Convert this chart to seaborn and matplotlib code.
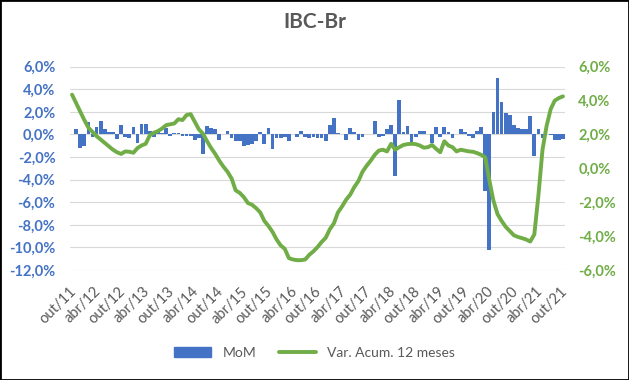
import matplotlib
matplotlib.use("Agg")
import matplotlib.pyplot as plt
import matplotlib.transforms as mtransforms
import seaborn as sns
import pandas as pd
import numpy as np
from matplotlib.patches import Rectangle
from matplotlib.lines import Line2D
from matplotlib.ticker import FuncFormatter

# Monthly variation (MoM, %) from out/11 to out/21
mom = [0.05, 0.5, -1.2, -1.05, 1.1, -0.25, 0.7, 1.2, 0.45, 0.2,
       0.2, -0.4, 0.85, -0.2, -0.3, 0.65, -0.75, 0.9, 0.95, 0.3,
       -0.25, 0.2, 0.1, 0.6, -0.1, 0.15, 0.1, -0.15, -0.15, -0.15,
       -0.5, -0.3, -1.75, 0.75, 0.6, 0.45, -0.5, 0.02, 0.3, -0.35,
       -0.55, -0.6, -1.05, -0.95, -0.85, -0.6, 0.2, -0.8, 0.6, -1.25,
       -0.35, -0.3, -0.2, -0.6, 0.05, -0.2, 0.3, -0.25, -0.3, -0.25,
       -0.35, -0.3, -0.6, 0.85, 1.5, 0.15, 0.02, -0.5, 0.6, 0.25,
       -0.45, -0.2, 0.02, 0.02, 1.15, -0.2, -0.1, 0.45, 0.8, -3.65,
       3.05, 0.25, 0.75, -0.7, -0.2, 0.3, 0.35, 0.02, -0.75, 0.7,
       -0.2, 0.65, 0.2, -0.35, 0.02, 0.45, 0.2, -0.15, -0.35, 0.3,
       0.65, -5.0, -10.2, 2.0, 5.0, 2.85, 1.9, 1.7, 0.85, 0.55,
       0.45, 0.45, 1.65, -1.9, 0.45, -0.35, 0.02, -0.05, -0.45, -0.45,
       -0.4]

# 12-month accumulated variation (%)
acum = [4.35, 3.85, 3.35, 2.85, 2.4, 2.15, 1.9, 1.7, 1.5, 1.3,
        1.1, 0.95, 0.85, 1.0, 0.98, 0.92, 1.2, 1.35, 1.45, 1.95,
        2.1, 2.2, 2.35, 2.55, 2.6, 2.65, 2.9, 2.85, 3.15, 3.2,
        2.75, 2.3, 2.05, 1.6, 1.2, 0.85, 0.45, 0.1, -0.2, -0.6,
        -1.3, -1.45, -1.7, -2.05, -2.15, -2.35, -2.6, -3.1, -3.4, -3.75,
        -4.2, -4.55, -4.75, -5.3, -5.38, -5.42, -5.42, -5.38, -5.1, -4.9,
        -4.65, -4.35, -4.1, -3.6, -3.25, -2.6, -2.25, -1.85, -1.55, -1.1,
        -0.75, -0.2, 0.15, 0.45, 0.8, 1.05, 1.1, 1.0, 1.45, 1.1,
        1.25, 1.38, 1.43, 1.45, 1.43, 1.35, 1.22, 1.25, 1.38, 1.15,
        0.95, 1.6, 1.35, 1.25, 1.0, 1.1, 1.05, 1.0, 0.98, 0.9,
        0.8, 0.65, -0.7, -1.9, -2.7, -3.1, -3.45, -3.7, -3.95, -4.05,
        -4.12, -4.2, -4.32, -3.9, -1.6, 1.1, 2.5, 3.5, 4.0, 4.15,
        4.25]

tick_labels = ["out/11", "abr/12", "out/12", "abr/13", "out/13", "abr/14",
               "out/14", "abr/15", "out/15", "abr/16", "out/16", "abr/17",
               "out/17", "abr/18", "out/18", "abr/19", "out/19", "abr/20",
               "out/20", "abr/21", "out/21"]

BLUE = "#4472C4"
GREEN = "#70AD47"
GREY = "#595959"

sns.set_style("white")
plt.rcParams['font.family'] = ['Lato', 'DejaVu Sans']

df = pd.DataFrame({"m": np.arange(len(mom)), "mom": mom, "acum": acum})

fig = plt.figure(figsize=(6.29, 3.80), dpi=100)
ax = fig.add_axes([70 / 629, 110 / 380, 495 / 629, 203.3 / 380])

sns.barplot(data=df, x="m", y="mom", ax=ax, color=BLUE, saturation=1,
            width=0.92, errorbar=None, linewidth=0)
ax2 = ax.twinx()
sns.lineplot(data=df, x="m", y="acum", ax=ax2, color=GREEN, linewidth=2.8)

ax.set_xlim(-0.5, len(mom) - 0.5)
ax.set_ylim(-12, 6)
ax2.set_ylim(-6, 6)
ax.set_yticks(np.arange(-12, 6.1, 2))
ax2.set_yticks(np.arange(-6, 6.1, 2))
fmt = FuncFormatter(lambda v, p: f"{v:.1f}%".replace(".", ","))
ax.yaxis.set_major_formatter(fmt)
ax2.yaxis.set_major_formatter(fmt)

ax.grid(axis="y", color="#D9D9D9", linewidth=0.8)
ax.grid(axis="x", visible=False)
ax2.grid(False)
ax.set_axisbelow(True)
for a in (ax, ax2):
    for s in a.spines.values():
        s.set_visible(False)
    a.set_xlabel("")
    a.set_ylabel("")

ax.set_xticks(np.arange(0, len(mom), 6))
ax.set_xticklabels(tick_labels, rotation=45, ha="right", va="center",
                   rotation_mode="anchor", fontsize=10.5, color=GREY)
ax.tick_params(axis="x", length=0, pad=14)
offset = mtransforms.ScaledTranslation(2 / 100, 0, fig.dpi_scale_trans)
for lbl in ax.get_xticklabels():
    lbl.set_transform(lbl.get_transform() + offset)

ax.tick_params(axis="y", length=0, pad=10.5, colors=BLUE, labelsize=10.5)
ax2.tick_params(axis="y", length=0, pad=9.5, colors=GREEN, labelsize=10.5)
for lbl in ax.get_yticklabels() + ax2.get_yticklabels():
    lbl.set_fontweight("bold")

fig.text(0.5, 1 - 22 / 380, "IBC-Br", ha="center", va="center",
         fontsize=15, fontweight="bold", color=GREY)

handles = [Rectangle((0, 0), 1, 1, color=BLUE),
           Line2D([], [], color=GREEN, linewidth=2.8)]
fig.legend(handles=handles, labels=["MoM", "Var. Acum. 12 meses"],
           loc="center", bbox_to_anchor=(0.5, 27 / 380), ncol=2,
           frameon=False, fontsize=10, handlelength=2.7, columnspacing=1.6,
           labelcolor=GREY)

fig.patches.append(Rectangle((0, 0), 1, 1, transform=fig.transFigure,
                             fill=False, edgecolor="black", linewidth=2))

fig.savefig("out.png", dpi=100)
